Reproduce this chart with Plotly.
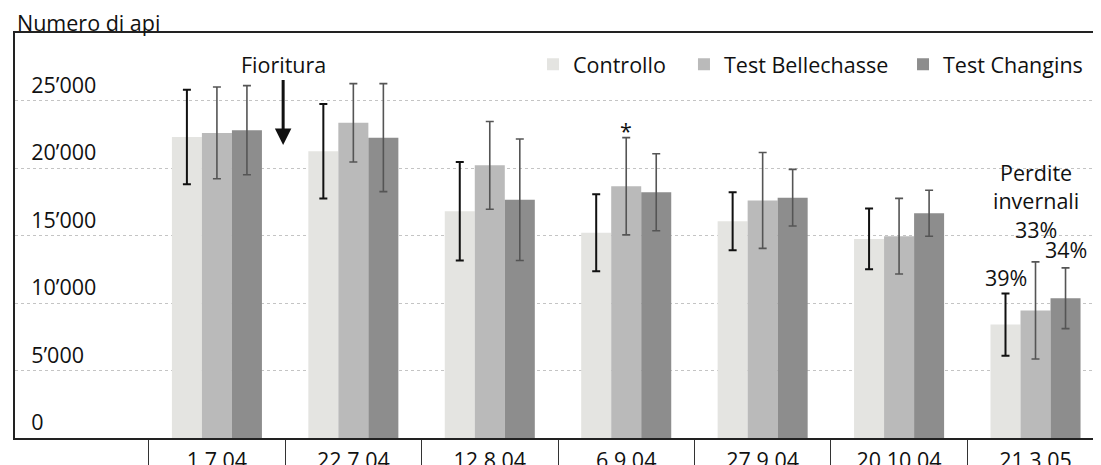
import plotly.graph_objects as go

dates = ["1.7.04", "22.7.04", "12.8.04", "6.9.04", "27.9.04", "20.10.04", "21.3.05"]

controllo = [22300, 21250, 16800, 15200, 16050, 14750, 8400]
bellechasse = [22600, 23350, 20200, 18650, 17600, 14950, 9450]
changins = [22800, 22250, 17650, 18200, 17800, 16650, 10350]

err_controllo = [3500, 3500, 3650, 2850, 2150, 2250, 2300]
err_bellechasse = [3400, 2900, 3250, 3600, 3550, 2800, 3600]
err_changins = [3300, 4000, 4500, 2850, 2100, 1700, 2250]

series_names = ["Controllo", "Test Bellechasse", "Test Changins"]

y_tickvals = [0, 5000, 10000, 15000, 20000, 25000]
y_ticktext = ["0", "5’000", "10’000", "15’000", "20’000", "25’000"]

loss_labels = ["39%", "33%", "34%"]

FONT = "Open Sans, Noto Sans, sans-serif"
FS = 21.5
colors = ["#e4e4e1", "#bababa", "#8d8d8d"]
err_colors = ["#111111", "#555555", "#555555"]
err_thick = [2, 1.6, 1.6]
legend_ids = ["legend", "legend2", "legend3"]
legend_x = [0.477, 0.616, 0.8177]

vals = [controllo, bellechasse, changins]
errs = [err_controllo, err_bellechasse, err_changins]

fig = go.Figure()
for i in range(3):
    fig.add_trace(go.Bar(
        x=dates, y=vals[i], name=series_names[i], legend=legend_ids[i],
        marker=dict(color=colors[i], line=dict(width=0)),
        error_y=dict(type="data", array=errs[i], visible=True,
                     color=err_colors[i], thickness=err_thick[i], width=4),
    ))

# the page body adds an 8px margin; the figure is sized to compensate
fig.update_layout(
    width=1093, height=457,
    margin=dict(l=7, r=0, t=25, b=27),
    paper_bgcolor="white", plot_bgcolor="white",
    barmode="group", bargap=0.34, bargroupgap=0,
    font=dict(family=FONT, size=FS, color="#111111"),
    showlegend=True,
)
for i, lid in enumerate(legend_ids):
    fig.update_layout({lid: dict(orientation="h", x=legend_x[i], xanchor="left", y=0.923,
                                 yanchor="middle", bgcolor="rgba(0,0,0,0)",
                                 font=dict(size=FS, family=FONT))})

fig.update_xaxes(
    type="category", range=[-1.48, 6.48],
    showline=True, linecolor="#222222", linewidth=1.5, mirror=True,
    ticks="outside", tickson="boundaries", ticklen=27, tickwidth=1.3, tickcolor="#333333",
    showgrid=False, tickfont=dict(size=FS, family=FONT, color="#111111"),
    ticklabelstandoff=2, automargin=False,
)
fig.update_yaxes(
    range=[0, 30000],
    tickvals=y_tickvals, ticktext=y_ticktext,
    ticklabelposition="inside top", ticks="",
    ticklabelstandoff=17,
    showline=True, linecolor="#222222", linewidth=1.5, mirror=False,
    showgrid=True, gridcolor="#c4c4c4", gridwidth=1, griddash="dot",
    zeroline=False, tickfont=dict(size=FS, family=FONT, color="#111111"),
    automargin=False,
)

annots = []
annots.append(dict(text="Numero di api", xref="paper", yref="paper", x=0, y=1.027,
                   xanchor="left", yanchor="middle", showarrow=False,
                   font=dict(size=FS, family=FONT, color="#111111")))
annots.append(dict(text="Fioritura", xref="x", yref="y", x=0.5, y=21700,
                   ax=0, ay=-81, showarrow=True, arrowhead=2, arrowsize=1.1,
                   arrowwidth=3, arrowcolor="#111111", xshift=-2,
                   font=dict(size=FS, family=FONT, color="#111111")))
annots.append(dict(text="*", xref="x", yref="y", x=dates[3], y=bellechasse[3] + err_bellechasse[3],
                   yanchor="bottom", showarrow=False, yshift=-9,
                   font=dict(size=FS, family=FONT, color="#111111")))
annots.append(dict(text="Perdite<br>invernali", xref="x", yref="y", x=dates[6], y=18600,
                   yanchor="middle", showarrow=False,
                   font=dict(size=FS, family=FONT, color="#111111")))
loss_yshift = [0, 16, 2]
for i, lab in enumerate(loss_labels):
    annots.append(dict(text=lab, xref="x", yref="y", x=dates[6],
                       y=vals[i][6] + errs[i][6], yanchor="bottom", showarrow=False,
                       xshift=(i - 1) * 30, yshift=loss_yshift[i],
                       font=dict(size=FS, family=FONT, color="#111111")))
fig.update_layout(annotations=annots)

fig.write_html("out.html")
